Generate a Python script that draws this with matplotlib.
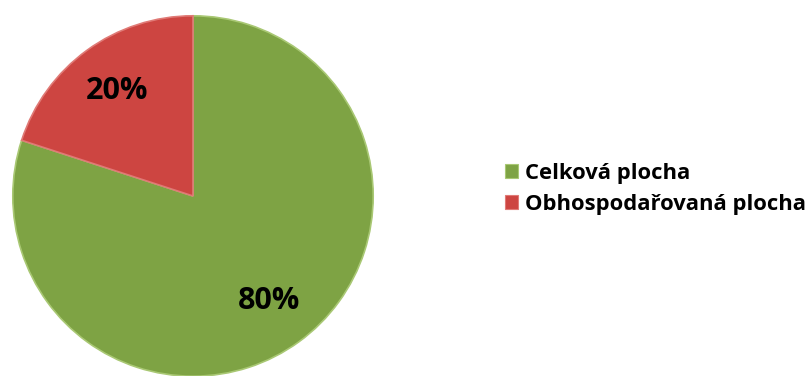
import matplotlib
matplotlib.use("Agg")
import matplotlib.pyplot as plt
from matplotlib.patches import Patch

labels = ["Celková plocha", "Obhospodařovaná plocha"]
values = [80, 20]
colors = ["#7ea344", "#cd4541"]
edge_colors = ["#a9c874", "#e07a76"]

plt.rcParams["font.family"] = ["Open Sans", "DejaVu Sans"]

W, H = 805, 376
fig = plt.figure(figsize=(W / 100, H / 100), dpi=100)
fig.patch.set_facecolor("white")

# pie axes: center (193, 196) px, radius 182 px
cx, cy, r = 193, 196, 182
ax = fig.add_axes([(cx - r) / W, (H - cy - r) / H, 2 * r / W, 2 * r / H])
wedges, texts, autotexts = ax.pie(
    values,
    colors=colors,
    startangle=90,
    counterclock=False,
    radius=1.0,
    autopct=lambda p: f"{p:.0f}%",
    pctdistance=0.72,
    wedgeprops=dict(linewidth=1.2),
    textprops=dict(fontsize=22, fontweight="bold", color="black"),
)
for w, ec in zip(wedges, edge_colors):
    w.set_edgecolor(ec)
ax.set_xlim(-1.01, 1.01)
ax.set_ylim(-1.01, 1.01)
ax.set_aspect("equal")
ax.axis("off")

handles = [Patch(facecolor=c, edgecolor=ec, linewidth=0.8) for c, ec in zip(colors, edge_colors)]
fig.legend(
    handles,
    labels,
    loc="center left",
    bbox_to_anchor=(505 / W, 1 - 189 / H),
    frameon=False,
    prop=dict(weight="bold", size=15.8),
    handlelength=0.6,
    handleheight=0.6,
    handletextpad=0.33,
    labelspacing=0.47,
    borderaxespad=0,
    borderpad=0,
)

fig.savefig("out.png", dpi=100, facecolor="white")
